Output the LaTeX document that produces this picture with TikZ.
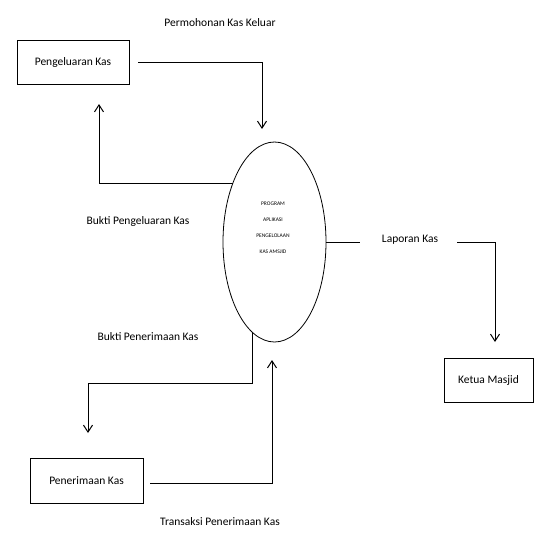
\documentclass[tikz,border=0pt]{standalone}
\usepackage{fontspec}
\setmainfont{Carlito}
\usetikzlibrary{shapes.geometric,arrows.meta}
\begin{document}
\begin{tikzpicture}[x=1pt,y=-1pt,
  ent/.style={draw,line width=1pt,rectangle,inner sep=0pt,font=\fontsize{11.5}{13}\selectfont},
  proc/.style={draw,line width=0.8pt,ellipse,inner sep=0pt},
  proctext/.style={inner sep=0pt,font=\fontsize{5.5}{16}\selectfont,align=center},
  flow/.style={line width=1pt},
  arr/.style={line width=1pt,-{Straight Barb[length=7pt,width=9pt]}},
  lbl/.style={font=\fontsize{11.5}{13}\selectfont}]
\useasboundingbox (0,0) rectangle (535,533);
\node[ent,minimum width=112pt,minimum height=44pt] (pk) at (73,62) {Pengeluaran Kas};
\node[ent,minimum width=113pt,minimum height=45pt] (pn) at (86.5,480.5) {Penerimaan Kas};
\node[ent,minimum width=89pt,minimum height=44pt] (km) at (488.5,380) {Ketua Masjid};
\node[proc,minimum width=103pt,minimum height=200pt] (prog) at (274.5,242) {};
\node[proctext] (progtext) at (273,228) {PROGRAM\\APLIKASI\\PENGELOLAAN\\KAS AMSJID};
% labels
\node[lbl] (l1) at (220,23) {Permohonan Kas Keluar};
\node[lbl] (l2) at (138,221) {Bukti Pengeluaran Kas};
\node[lbl] (l3) at (410,240) {Laporan Kas};
\node[lbl] (l4) at (148,337) {Bukti Penerimaan Kas};
\node[lbl] (l5) at (220,522) {Transaksi Penerimaan Kas};
% coordinates
\coordinate (a1s) at (138,62);
\coordinate (a1e) at (262,129);
\coordinate (a2s) at (232.9,183);
\coordinate (a2e) at (99,104);
\coordinate (a3s) at (326,242);
\coordinate (a3m) at (360,242);
\coordinate (a3n) at (457,242);
\coordinate (a3e) at (495,342);
\coordinate (a4s) at (252,332);
\coordinate (a4y) at (252,383);
\coordinate (a4e) at (88,433);
\coordinate (a5s) at (150,483);
\coordinate (a5e) at (272,360);
% connectors
\draw[arr] (a1s) -| (a1e);
\draw[arr] (a2s) -| (a2e);
\draw[flow] (a3s) -- (a3m);
\draw[arr] (a3n) -| (a3e);
\draw[arr] (a4s) -- (a4y) -| (a4e);
\draw[arr] (a5s) -| (a5e);
\end{tikzpicture}
\end{document}
